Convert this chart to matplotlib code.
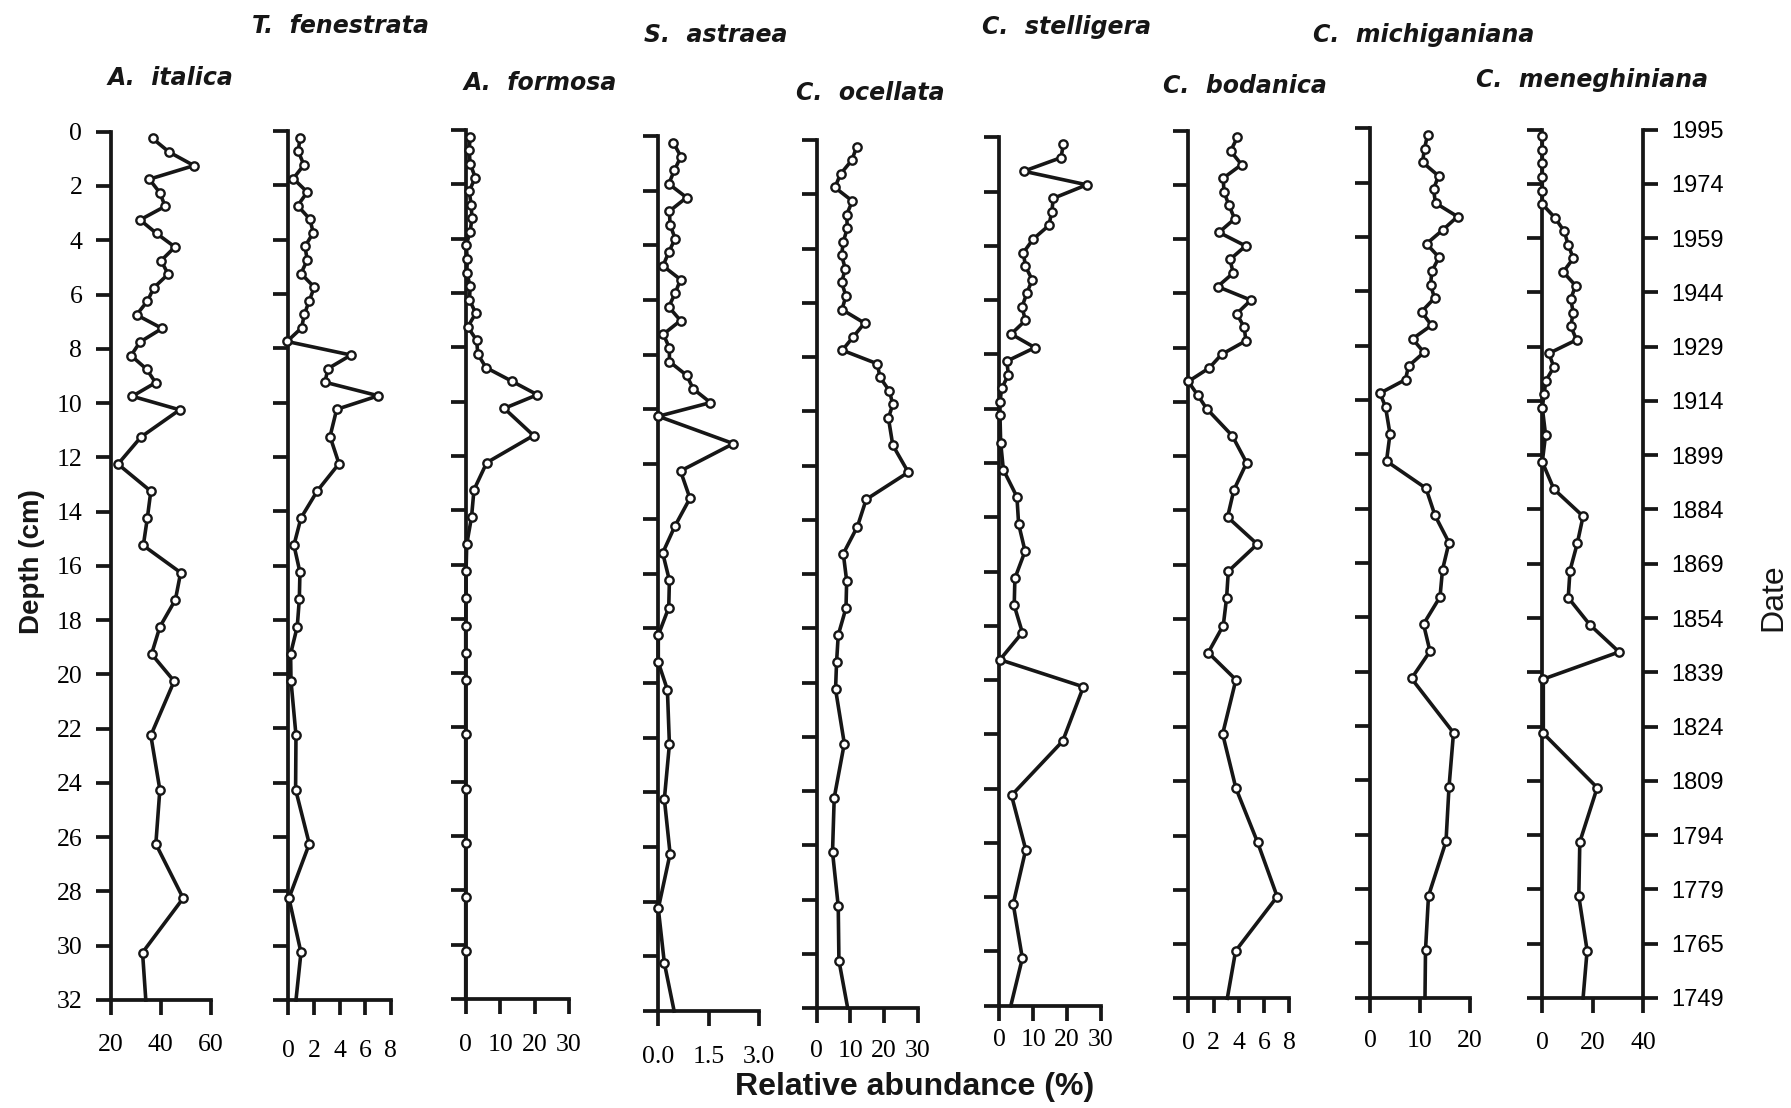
import matplotlib
matplotlib.use('Agg')
import matplotlib.pyplot as plt

W, H = 1791, 1108

# sample depths (cm); the last entry is where the line meets the bottom axis
depth = [0.25, 0.75, 1.25, 1.75, 2.25, 2.75, 3.25, 3.75, 4.25, 4.75, 5.25,
         5.75, 6.25, 6.75, 7.25, 7.75, 8.25, 8.75, 9.25, 9.75, 10.25,
         11.25, 12.25, 13.25, 14.25, 15.25, 16.25, 17.25, 18.25, 19.25, 20.25,
         22.25, 24.25, 26.25, 28.25, 30.25, 32.0]

italica = [36.7, 43.3, 53.2, 35.4, 39.6, 41.7, 31.7, 38.3, 45.6, 40.1, 42.9,
           37.2, 34.6, 30.3, 40.5, 31.7, 28.1, 34.3, 37.9, 28.6, 47.5,
           32.1, 22.9, 36.0, 34.6, 33.0, 47.9, 45.8, 39.6, 36.3, 45.3,
           36.0, 39.6, 38.0, 48.9, 32.7, 34.0]
fenestrata = [0.91, 0.78, 1.22, 0.39, 1.48, 0.73, 1.69, 1.95, 1.30, 1.48, 0.99,
              2.03, 1.64, 1.25, 1.04, -0.1, 4.9, 3.1, 2.86, 7.03, 3.78,
              3.26, 3.96, 2.27, 0.99, 0.44, 0.91, 0.86, 0.70, 0.18, 0.21,
              0.60, 0.57, 1.64, 0.05, 0.99, 0.6]
formosa = [1.3, 1.0, 1.3, 2.8, 1.0, 1.6, 1.8, 1.3, 0.1, 0.5, 0.3,
           1.3, 1.1, 2.9, 0.6, 3.2, 3.5, 5.9, 13.4, 20.8, 11.2,
           19.7, 6.1, 2.4, 1.7, 0.3, 0.1, 0.1, 0.0, 0.0, 0.0,
           0.0, 0.0, 0.0, 0.0, 0.0, 0.0]
astraea = [0.45, 0.67, 0.48, 0.31, 0.84, 0.33, 0.35, 0.50, 0.31, 0.14, 0.66,
           0.50, 0.31, 0.66, 0.15, 0.33, 0.33, 0.84, 1.04, 1.55, 0.0,
           2.23, 0.66, 0.94, 0.50, 0.13, 0.33, 0.31, 0.0, 0.0, 0.27,
           0.33, 0.18, 0.35, 0.0, 0.18, 0.47]
ocellata = [11.9, 10.4, 7.1, 5.4, 10.6, 8.9, 9.1, 7.9, 7.4, 8.5, 7.4,
            8.7, 7.5, 14.2, 10.9, 7.6, 18.0, 18.8, 21.6, 22.6, 21.3,
            22.6, 27.2, 14.7, 12.1, 7.9, 8.9, 8.7, 6.4, 5.9, 5.6,
            8.2, 5.2, 4.7, 6.4, 6.6, 9.2]
stelligera = [18.9, 18.2, 7.2, 25.8, 15.9, 15.5, 14.6, 10.0, 7.1, 7.7, 9.7,
              8.1, 6.7, 7.7, 3.5, 10.5, 2.2, 2.7, 0.7, 0.2, 0.2,
              0.4, 1.2, 5.2, 5.7, 7.6, 4.6, 4.4, 6.8, 0.2, 24.8,
              18.7, 3.6, 7.8, 4.1, 6.8, 3.4]
bodanica = [3.88, 3.35, 4.22, 2.77, 2.82, 3.22, 3.67, 2.43, 4.54, 3.30, 3.56,
            2.32, 4.96, 3.83, 4.43, 4.56, 2.64, 1.66, 0.0, 0.74, 1.45,
            3.48, 4.62, 3.61, 3.11, 5.46, 3.17, 3.03, 2.77, 1.58, 3.77,
            2.72, 3.77, 5.49, 7.04, 3.75, 3.09]
michiganiana = [11.5, 10.9, 10.5, 13.7, 12.7, 13.1, 17.5, 14.5, 11.3, 13.8, 12.4,
                12.1, 12.9, 10.3, 12.3, 8.5, 10.8, 7.7, 7.1, 2.0, 3.1,
                4.0, 3.3, 11.2, 13.0, 15.8, 14.5, 14.0, 10.7, 12.0, 8.3,
                16.7, 15.8, 15.2, 11.7, 11.1, 11.0]
meneghiniana = [0, 0, 0, 0, 0, 0, 5.0, 8.7, 10.3, 12.3, 8.3,
                13.2, 11.3, 12.3, 11.3, 13.6, 2.6, 4.6, 1.45, 0.7, 0.0,
                1.3, 0.0, 4.6, 16.2, 13.9, 11.0, 10.3, 18.9, 30.5, 0.4,
                0.4, 21.8, 14.9, 14.5, 17.8, 16.2]

names = ['A.  italica', 'T.  fenestrata', 'A.  formosa', 'S.  astraea', 'C.  ocellata',
         'C.  stelligera', 'C.  bodanica', 'C.  michiganiana', 'C.  meneghiniana']
series = [italica, fenestrata, formosa, astraea, ocellata,
          stelligera, bodanica, michiganiana, meneghiniana]
xlims = [(20, 60), (0, 8), (0, 30), (0, 3), (0, 30), (0, 30), (0, 8), (0, 20), (0, 40)]
xticks = [[20, 40, 60], [0, 2, 4, 6, 8], [0, 10, 20, 30], [0, 1.5, 3.0], [0, 10, 20, 30],
          [0, 10, 20, 30], [0, 2, 4, 6, 8], [0, 10, 20], [0, 20, 40]]
xticklabels = [['20', '40', '60'], ['0', '2', '4', '6', '8'], ['0', '10', '20', '30'],
               ['0.0', '1.5', '3.0'], ['0', '10', '20', '30'], ['0', '10', '20', '30'],
               ['0', '2', '4', '6', '8'], ['0', '10', '20'], ['0', '20', '40']]
dates = ['1995', '1974', '1959', '1944', '1929', '1914', '1899', '1884', '1869',
         '1854', '1839', '1824', '1809', '1794', '1779', '1765', '1749']

# layout in pixels: left spine x, right end x, top y, bottom y
boxes = [(110.7, 211, 131.7, 1000), (288.3, 390.7, 131, 1000), (465.7, 569, 130, 999),
         (658.3, 759.3, 136, 1011), (816.7, 917.7, 140, 1008), (999.3, 1101, 137.3, 1005.7),
         (1188.3, 1289.3, 130.7, 998.3), (1370, 1470, 128.3, 997.7), (1542.3, 1643, 129.5, 998)]
xpads = [13.3, 17.6, 14, 14, 11.9, 6.1, 13.3, 11.9, 13.3]
title_pos = [(170, 78), (340, 26), (540, 83), (716, 35), (870, 93),
             (1067, 27), (1245, 86), (1424, 35), (1592, 80)]

ink = '#161616'
fig = plt.figure(figsize=(W / 100, H / 100), dpi=100)

for i in range(9):
    x0, x1, y0, y1 = boxes[i]
    ax = fig.add_axes([x0 / W, 1 - y1 / H, (x1 - x0) / W, (y1 - y0) / H])
    vals = series[i]
    ax.plot(vals, depth, color=ink, lw=2.6, clip_on=False, zorder=3)
    ax.plot(vals[:-1], depth[:-1], 'o', ms=6, mfc='white', mec=ink, mew=1.7,
            clip_on=False, zorder=4)
    ax.set_xlim(*xlims[i])
    ax.set_ylim(32, 0)
    ax.set_yticks(range(0, 33, 2))
    ax.set_xticks(xticks[i])
    ax.set_xticklabels(xticklabels[i], family='Liberation Serif', fontsize=18.5)
    for s in ['top', 'right']:
        ax.spines[s].set_visible(False)
    for s in ['left', 'bottom']:
        ax.spines[s].set_linewidth(2.7)
        ax.spines[s].set_color(ink)
    ax.tick_params(axis='x', direction='out', length=11, width=2.7, color=ink, pad=xpads[i])
    ax.tick_params(axis='y', direction='out', length=11, width=2.7, color=ink, pad=9.4)
    if i == 0:
        ax.set_yticklabels([str(d) for d in range(0, 33, 2)], family='Liberation Serif', fontsize=18.5)
    else:
        ax.tick_params(axis='y', labelleft=False)
    if i == 8:
        ax.spines['right'].set_visible(True)
        ax.spines['right'].set_linewidth(2.7)
        ax.spines['right'].set_color(ink)
        ax.tick_params(axis='y', right=True, labelright=True, labelleft=False)
        ax.set_yticklabels(dates, family='Liberation Sans', fontsize=17)
    tx, ty = title_pos[i]
    fig.text(tx / W, 1 - ty / H, names[i], ha='center', va='center', fontsize=17,
             family='DejaVu Sans', weight='bold', style='oblique', color=ink)

fig.text(32 / W, 1 - 562 / H, 'Depth (cm)', rotation=90, ha='center', va='center',
         fontsize=20, family='Liberation Sans', weight='bold', color=ink)
fig.text(915 / W, 1 - 1087 / H, 'Relative abundance (%)', ha='center', va='center',
         fontsize=23, family='Liberation Sans', weight='bold', color=ink)
fig.text(1773 / W, 1 - 597 / H, 'Date', rotation=90, ha='center', va='center',
         fontsize=23, family='Liberation Sans', color=ink)

fig.savefig('out.png', dpi=100)
